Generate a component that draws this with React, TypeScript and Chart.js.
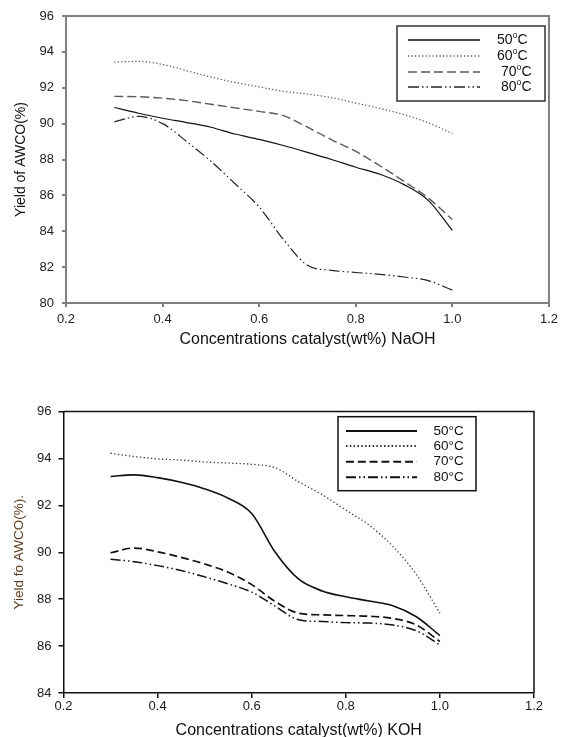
import React, { useEffect, useRef } from 'react';
import { Chart, registerables } from 'chart.js';

Chart.register(...registerables);
Chart.defaults.font.family = '"Liberation Sans", Arial, sans-serif';

// ---------- data ----------
const temperatures = ['50', '60', '70', '80'];
const concentrations = [0.3, 0.35, 0.4, 0.45, 0.5, 0.55, 0.6, 0.65, 0.7, 0.75, 0.8, 0.85, 0.9, 0.95, 1.0];

// NaOH (top chart)
const naoh50 = [90.9, 90.58, 90.3, 90.06, 89.8, 89.42, 89.12, 88.78, 88.4, 88.0, 87.57, 87.18, 86.6, 85.72, 84.05];
const naoh60 = [93.43, 93.47, 93.3, 92.95, 92.6, 92.3, 92.05, 91.8, 91.65, 91.45, 91.15, 90.85, 90.5, 90.05, 89.45];
const naoh70 = [91.52, 91.5, 91.42, 91.28, 91.08, 90.88, 90.68, 90.45, 89.8, 89.1, 88.45, 87.65, 86.78, 85.85, 84.65];
const naoh80 = [90.1, 90.4, 90.0, 89.0, 87.9, 86.65, 85.35, 83.55, 82.1, 81.82, 81.7, 81.6, 81.45, 81.25, 80.72];

// KOH (bottom chart)
const koh50 = [93.23, 93.3, 93.18, 92.98, 92.7, 92.3, 91.65, 90.0, 88.85, 88.35, 88.1, 87.92, 87.72, 87.25, 86.45];
const koh60 = [94.22, 94.08, 93.98, 93.93, 93.85, 93.8, 93.75, 93.6, 93.0, 92.45, 91.8, 91.15, 90.25, 89.05, 87.4];
const koh70 = [89.98, 90.18, 90.02, 89.78, 89.5, 89.15, 88.62, 87.9, 87.4, 87.33, 87.3, 87.27, 87.18, 86.9, 86.2];
const koh80 = [89.7, 89.6, 89.43, 89.22, 88.95, 88.65, 88.3, 87.7, 87.12, 87.05, 87.0, 86.98, 86.9, 86.65, 86.05];

const xMin = 0.2;
const xMax = 1.2;
const xStep = 0.2;
const naohYMin = 80;
const naohYMax = 96;
const kohYMin = 84;
const kohYMax = 96;
const yStep = 2;

const naohXTitle = 'Concentrations catalyst(wt%) NaOH';
const naohYTitle = 'Yield of AWCO(%)';
const kohXTitle = 'Concentrations catalyst(wt%) KOH';
const kohYTitle = 'Yield fo AWCO(%).';

// ---------- helpers ----------
const pts = (ys: number[]) => ys.map((y, i) => ({ x: concentrations[i], y }));

const frameLines = {
  id: 'frameLines',
  afterDatasetsDraw(chart: any, _a: any, opts: any) {
    const { ctx, chartArea } = chart;
    ctx.save();
    ctx.strokeStyle = opts.color;
    ctx.lineWidth = opts.width;
    ctx.beginPath();
    ctx.moveTo(chartArea.left, chartArea.top);
    ctx.lineTo(chartArea.right, chartArea.top);
    ctx.lineTo(chartArea.right, chartArea.bottom);
    ctx.stroke();
    ctx.restore();
  },
};

const boxLegend = {
  id: 'boxLegend',
  afterDraw(chart: any, _a: any, o: any) {
    const { ctx } = chart;
    ctx.save();
    ctx.strokeStyle = o.boxColor;
    ctx.lineWidth = o.boxWidth;
    ctx.setLineDash([]);
    ctx.strokeRect(o.box.x, o.box.y, o.box.w, o.box.h);
    chart.data.datasets.forEach((ds: any, i: number) => {
      const y = o.rows[i];
      ctx.save();
      ctx.beginPath();
      ctx.setLineDash(o.legendDash ? o.legendDash[i] : ds.borderDash || []);
      ctx.strokeStyle = ds.borderColor;
      ctx.lineWidth = o.lineWidth;
      ctx.moveTo(o.lineX0, y);
      ctx.lineTo(o.lineX1, y);
      ctx.stroke();
      ctx.restore();
      ctx.fillStyle = o.textColor;
      ctx.textBaseline = 'middle';
      ctx.textAlign = 'left';
      const x0 = o.textX + (o.textShift ? o.textShift[i] : 0);
      const label: string = ds.label;
      if (o.superscript) {
        const [num, unit] = label.split('°');
        ctx.font = `${o.fontSize}px "Liberation Sans", Arial, sans-serif`;
        ctx.fillText(num, x0, y);
        let x = x0 + ctx.measureText(num).width;
        ctx.font = `${o.fontSize * 0.62}px "Liberation Sans", Arial, sans-serif`;
        ctx.fillText('o', x, y - o.fontSize * 0.32);
        x += ctx.measureText('o').width;
        ctx.font = `${o.fontSize}px "Liberation Sans", Arial, sans-serif`;
        ctx.fillText(unit, x, y);
      } else {
        ctx.font = `${o.fontSize}px "Liberation Sans", Arial, sans-serif`;
        ctx.fillText(label, x0, y);
      }
    });
    ctx.restore();
  },
};

function makeConfig(p: any) {
  return {
    type: 'line',
    data: {
      datasets: p.series.map((ys: number[], i: number) => ({
        label: `${temperatures[i]}°C`,
        data: pts(ys),
        borderColor: p.colors[i],
        borderWidth: p.widths[i],
        borderDash: p.dashes[i],
        pointRadius: 0,
        fill: false,
        cubicInterpolationMode: 'monotone',
      })),
    },
    options: {
      animation: false,
      responsive: false,
      devicePixelRatio: 1,
      layout: { padding: p.padding },
      plugins: {
        legend: { display: false },
        tooltip: { enabled: false },
        frameLines: p.frame,
        boxLegend: p.legend,
      },
      scales: {
        x: {
          type: 'linear',
          min: xMin,
          max: xMax,
          afterFit: (s: any) => { s.height = p.xHeight; },
          ticks: {
            stepSize: xStep,
            color: p.tickColor,
            font: { size: 13 },
            padding: p.xTickPad,
            callback: (v: any) => Number(v).toFixed(1),
          },
          grid: { drawOnChartArea: false, drawTicks: true, tickLength: p.tickLen, color: p.axisColor, lineWidth: p.axisWidth },
          border: { display: true, color: p.axisColor, width: p.axisWidth },
          title: {
            display: true,
            text: p.xTitle,
            color: '#111',
            font: { size: 16 },
            padding: { top: 0, bottom: p.xTitlePad },
          },
        },
        y: {
          type: 'linear',
          min: p.yMin,
          max: p.yMax,
          afterFit: (s: any) => { s.width = p.yWidth; },
          ticks: {
            stepSize: yStep,
            color: p.tickColor,
            font: { size: 13 },
            padding: p.yTickPad,
          },
          grid: { drawOnChartArea: false, drawTicks: true, tickLength: p.tickLen, color: p.axisColor, lineWidth: p.axisWidth },
          border: { display: true, color: p.axisColor, width: p.axisWidth },
          title: {
            display: true,
            text: p.yTitle,
            color: p.yTitleColor,
            font: { size: p.yTitleSize },
            padding: { top: p.yTitlePad, bottom: 0 },
          },
        },
      },
    },
    plugins: [frameLines, boxLegend],
  };
}

function ChartCanvas({ config, top, height }: any) {
  const ref = useRef<HTMLCanvasElement | null>(null);
  useEffect(() => {
    if (!ref.current) return;
    const chart = new Chart(ref.current, config as any);
    return () => chart.destroy();
  }, []);
  return (
    <canvas
      ref={ref}
      width={563}
      height={height}
      style={{ position: 'absolute', left: 0, top, width: 563, height }}
    />
  );
}

const topConfig = makeConfig({
  series: [naoh50, naoh60, naoh70, naoh80],
  colors: ['#111111', '#555555', '#5a5a5a', '#222222'],
  widths: [1.2, 1.3, 1.4, 1.2],
  dashes: [[], [1.2, 2.3], [9, 4], [11, 3, 1.5, 3, 1.5, 3]],
  padding: { left: 0, right: 11, top: 16, bottom: 0 },
  xHeight: 52,
  yWidth: 66,
  tickLen: 4,
  xTickPad: 5,
  yTickPad: 8,
  tickColor: '#222',
  axisColor: '#808080',
  axisWidth: 2,
  xTitle: naohXTitle,
  xTitlePad: 6,
  yTitle: naohYTitle,
  yTitleColor: '#111',
  yTitleSize: 14,
  yTitlePad: 13,
  yMin: naohYMin,
  yMax: naohYMax,
  frame: { color: '#808080', width: 2 },
  legend: {
    box: { x: 397, y: 26, w: 148, h: 75 },
    boxColor: '#333',
    boxWidth: 1.5,
    rows: [40, 56, 72, 87],
    lineX0: 408,
    lineX1: 480,
    lineWidth: 1.3,
    textX: 497,
    textShift: [0, 0, 4, 4],
    fontSize: 14,
    textColor: '#111',
    superscript: true,
  },
});

const bottomConfig = makeConfig({
  series: [koh50, koh60, koh70, koh80],
  colors: ['#111111', '#333333', '#111111', '#111111'],
  widths: [1.6, 1.3, 1.7, 1.5],
  dashes: [[], [1.3, 2.4], [8, 4], [10, 3, 1.5, 3, 1.5, 3]],
  padding: { left: 0, right: 29, top: 31.5, bottom: 0 },
  xHeight: 52,
  yWidth: 63.5,
  tickLen: 5,
  xTickPad: 1,
  yTickPad: 7,
  tickColor: '#1a1a1a',
  axisColor: '#111',
  axisWidth: 1.5,
  xTitle: kohXTitle,
  xTitlePad: 4.4,
  yTitle: kohYTitle,
  yTitleColor: '#5c3a1e',
  yTitleSize: 13.5,
  yTitlePad: 11.4,
  yMin: kohYMin,
  yMax: kohYMax,
  frame: { color: '#111', width: 1.5 },
  legend: {
    box: { x: 338, y: 36.7, w: 138, h: 74 },
    boxColor: '#111',
    boxWidth: 1.5,
    rows: [51, 66, 81.7, 97.3],
    lineX0: 346,
    lineX1: 417,
    lineWidth: 2,
    legendDash: [[], [1.5, 2.3], [8, 3.8], [10, 3, 1.5, 3, 1.5, 3]],
    textX: 433.5,
    fontSize: 13.5,
    textColor: '#111',
    superscript: false,
  },
});

export default function App() {
  return (
    <div
      style={{
        position: 'fixed',
        left: 0,
        top: 0,
        width: 563,
        height: 737,
        overflow: 'hidden',
        background: '#ffffff',
      }}
    >
      <ChartCanvas config={topConfig} top={0} height={355} />
      <ChartCanvas config={bottomConfig} top={380} height={365} />
    </div>
  );
}
